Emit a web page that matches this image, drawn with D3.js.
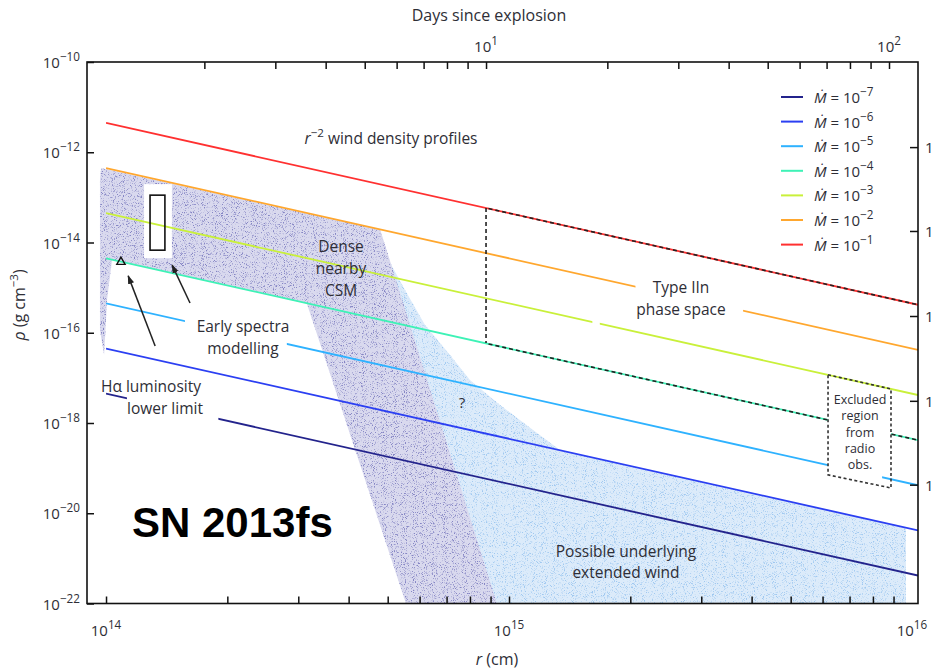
<!DOCTYPE html>
<html><head><meta charset="utf-8">
<script src="https://cdn.jsdelivr.net/npm/d3@7"></script>
<style>
body{margin:0;background:#fff}
svg{display:block;font-family:"Open Sans",sans-serif}
</style></head><body>
<script>
// ---- values ----
const mdotExp = [-7, -6, -5, -4, -3, -2, -1]
const lineColors = ["#23238c", "#2b3ff2", "#2eb2ff", "#3ef2b6", "#c9f03a", "#ffa72e", "#ff3030"]
const rStart = 1e14, rEnd = 1.035e16
const rhoAtStart = [4.47e-18, 4.47e-17, 4.47e-16, 4.47e-15, 4.47e-14, 4.47e-13, 4.47e-12]
const rhoAtEnd = [4.17e-22, 4.17e-21, 4.17e-20, 4.17e-19, 4.17e-18, 4.17e-17, 4.17e-16]
// visible pieces of each line in r (gaps are where labels sit)
const lineSegments = [
    [[1e14, 1.127e14], [1.90e14, 1.035e16]],
    [[1e14, 1.035e16]],
    [[1e14, 1.57e14], [2.81e14, 6.19e15], [8.43e15, 1.035e16]],
    [[1e14, 6.19e15], [8.87e15, 1.035e16]],
    [[1e14, 1.61e15], [1.68e15, 1.035e16]],
    [[1e14, 2.06e15], [3.81e15, 1.035e16]],
    [[1e14, 1.035e16]]
]
// shaded regions [r, rho]
const denseCSM = [[9.72e13, 4.47e-13], [4.79e14, 1.95e-14], [9.33e14, 1e-22], [5.55e14, 1e-22],
    [3.15e14, 4.47e-16], [1.035e14, 4.17e-15], [1.006e14, 5.37e-16], [9.89e13, 3.24e-17],
    [9.66e13, 1.15e-16], [9.66e13, 2.45e-13]]
const extendedWind = [[4.79e14, 1.95e-14], [5.0e14, 4.5e-15], [5.52e14, 8.9e-16], [6.19e14, 1.48e-16],
    [7.14e14, 3.21e-17], [8.0e14, 8.99e-18], [9.5e14, 2.5e-18], [1.13e15, 7.76e-19], [1.34e15, 2.5e-19],
    [9.66e15, 4.79e-21], [9.66e15, 1e-22], [8.0e14, 1e-22]]
// Type IIn box: left edge r, red line above, green line below
const typeIInR = 8.77e14, typeIInTop = 5.8e-14, typeIInBottom = 5.93e-17
// excluded region from radio (corners)
const excluded = [[6.19e15, 1.17e-17], [8.87e15, 5.68e-18], [8.87e15, 3.63e-20], [6.19e15, 7.08e-20]]
// early spectra modelling box and H-alpha point
const spectraBox = {r: [1.286e14, 1.40e14], rho: [6.76e-15, 1.12e-13]}
const halphaPoint = [1.089e14, 3.71e-15]
const arrows = [[[1.324e14, 5.1e-17], [1.135e14, 1.82e-15]], [[1.616e14, 4.57e-16], [1.459e14, 3.16e-15]]]
// axes
const rAt10Days = 8.77e14
const xMajor = [1e14, 1e15, 1e16]
const yMajorExp = [-10, -12, -14, -16, -18, -20, -22]
const rightTicks = [1.3e-12, 1.8e-14, 2.35e-16, 3.1e-18, 4.3e-20]

const W = 932, H = 670
const L = 87, R = 918, T = 62, B = 603.5
const ink = "#2e2e36"

let x = d3.scaleLog().domain([8.97e13, 1.035e16]).range([L, R])
let y = d3.scaleLog().domain([1e-22, 1e-10]).range([B, T])
let xd = d3.scaleLog().domain(x.domain().map(r => r / rAt10Days * 10)).range([L, R])
let line = d3.line().x(d => x(d[0])).y(d => y(d[1]))

let svg = d3.select("body").append("svg").attr("width", W).attr("height", H)
let defs = svg.append("defs")

// stipple texture
let f = defs.append("filter").attr("id", "speckle").attr("x", 0).attr("y", 0).attr("width", 1).attr("height", 1)
f.append("feTurbulence").attr("type", "fractalNoise").attr("baseFrequency", 1.1).attr("numOctaves", 2).attr("seed", 4).attr("result", "noise")
f.append("feColorMatrix").attr("in", "noise").attr("type", "matrix")
    .attr("values", "0 0 0 0 0  0 0 0 0 0  0 0 0 0 0  5 0 0 0 -2.75").attr("result", "mask")
f.append("feComposite").attr("in", "SourceGraphic").attr("in2", "mask").attr("operator", "in")

//shaded regions
let regions = [[extendedWind, "#dcebfa", "#9fc8f0"], [denseCSM, "#d9d9ee", "#8585c4"]]
regions.forEach(([pts, base, dots]) => {
    svg.append("path").attr("d", line(pts) + "Z").attr("fill", base)
    svg.append("path").attr("d", line(pts) + "Z").attr("fill", dots).attr("filter", "url(#speckle)")
})

// white space round the spectra box
svg.append("rect")
    .attr("x", x(spectraBox.r[0]) - 6).attr("y", y(spectraBox.rho[1]) - 11)
    .attr("width", x(spectraBox.r[1]) - x(spectraBox.r[0]) + 13)
    .attr("height", y(spectraBox.rho[0]) - y(spectraBox.rho[1]) + 19)
    .attr("fill", "#fff")

//wind lines, clipped to their visible pieces
mdotExp.forEach((e, i) => {
    let cp = defs.append("clipPath").attr("id", "seg" + i)
    lineSegments[i].forEach(s => cp.append("rect").attr("x", x(s[0])).attr("y", 0)
        .attr("width", x(s[1]) - x(s[0])).attr("height", H))
    svg.append("path")
        .attr("d", line([[rStart, rhoAtStart[i]], [rEnd, rhoAtEnd[i]]]))
        .attr("clip-path", "url(#seg" + i + ")")
        .attr("stroke", lineColors[i]).attr("stroke-width", 1.8).attr("fill", "none")
})

// Type IIn phase space outline
let dash = "4,3"
let redI = 6, greenI = 3
let cpTop = defs.append("clipPath").attr("id", "iinTop")
cpTop.append("rect").attr("x", x(typeIInR)).attr("y", 0).attr("width", R - x(typeIInR)).attr("height", H)
svg.append("path").attr("d", line([[rStart, rhoAtStart[redI]], [rEnd, rhoAtEnd[redI]]]))
    .attr("clip-path", "url(#iinTop)").attr("stroke", "#222").attr("stroke-width", 1.6)
    .attr("stroke-dasharray", dash).attr("fill", "none")
let cpBot = defs.append("clipPath").attr("id", "iinBot")
cpBot.append("rect").attr("x", x(typeIInR)).attr("y", 0).attr("width", x(excluded[0][0]) - x(typeIInR)).attr("height", H)
cpBot.append("rect").attr("x", x(excluded[1][0])).attr("y", 0).attr("width", R - x(excluded[1][0])).attr("height", H)
svg.append("path").attr("d", line([[rStart, rhoAtStart[greenI]], [rEnd, rhoAtEnd[greenI]]]))
    .attr("clip-path", "url(#iinBot)").attr("stroke", "#222").attr("stroke-width", 1.6)
    .attr("stroke-dasharray", dash).attr("fill", "none")
svg.append("path").attr("d", line([[typeIInR, typeIInTop], [typeIInR, typeIInBottom]]))
    .attr("stroke", "#222").attr("stroke-width", 1.6).attr("stroke-dasharray", dash).attr("fill", "none")

// excluded region box
svg.append("path").attr("d", line(excluded) + "Z")
    .attr("fill", "none").attr("stroke", "#333").attr("stroke-width", 1.6).attr("stroke-dasharray", "3,2.5")

// spectra box, H-alpha point and arrows
svg.append("rect")
    .attr("x", x(spectraBox.r[0])).attr("y", y(spectraBox.rho[1]))
    .attr("width", x(spectraBox.r[1]) - x(spectraBox.r[0]))
    .attr("height", y(spectraBox.rho[0]) - y(spectraBox.rho[1]))
    .attr("fill", "none").attr("stroke", "#111").attr("stroke-width", 1.6)
svg.append("path")
    .attr("d", d3.symbol(d3.symbolTriangle, 30)())
    .attr("transform", `translate(${x(halphaPoint[0])},${y(halphaPoint[1])})`)
    .attr("fill", "none").attr("stroke", "#111").attr("stroke-width", 1.4)
defs.append("marker").attr("id", "head").attr("viewBox", "0 0 10 10").attr("refX", 9).attr("refY", 5)
    .attr("markerWidth", 9).attr("markerHeight", 9).attr("markerUnits", "userSpaceOnUse").attr("orient", "auto")
    .append("path").attr("d", "M0,1.5L10,5L0,8.5Z").attr("fill", "#222")
arrows.forEach(a => svg.append("path").attr("d", line(a))
    .attr("stroke", "#222").attr("stroke-width", 1.5).attr("marker-end", "url(#head)"))

// frame and axes
svg.append("rect").attr("x", L).attr("y", T).attr("width", R - L).attr("height", B - T)
    .attr("fill", "none").attr("stroke", "#111").attr("stroke-width", 1.6)

let xTicks = []
for (let d = 14; d < 16; d++) for (let m = 1; m < 10; m++) xTicks.push(m * 10 ** d)
svg.append("g").attr("transform", `translate(0,${B})`)
    .call(d3.axisBottom(x).tickValues(xTicks).tickSize(-7).tickFormat(""))
let dayTicks = []
for (let d = 0; d < 2; d++) for (let m = 2; m < 10; m++) dayTicks.push(m * 10 ** d)
dayTicks.push(10, 100)
svg.append("g").attr("transform", `translate(0,${T})`)
    .call(d3.axisTop(xd).tickValues(dayTicks).tickSize(-7).tickFormat(""))
svg.append("g").attr("transform", `translate(${L},0)`)
    .call(d3.axisLeft(y).tickValues(yMajorExp.map(e => 10 ** e)).tickSize(-7).tickFormat(""))
svg.append("g").attr("transform", `translate(${R},0)`)
    .call(d3.axisRight(y).tickValues(rightTicks).tickSize(-8).tickFormat(""))
svg.selectAll(".domain").remove()
svg.selectAll(".tick line").attr("stroke", "#111").attr("stroke-width", 1.5)

function pow10(sel, base, exp) {
    sel.append("tspan").text(base)
    sel.append("tspan").attr("dy", -7).attr("font-size", "0.78em").text(exp)
}
xMajor.forEach((r, i) => {
    let t = svg.append("text").attr("x", x(r)).attr("y", 636).attr("text-anchor", "middle")
        .attr("font-size", 15).attr("fill", ink)
    pow10(t, "10", ["14", "15", "16"][i])
})
;[[10, "1"], [100, "2"]].forEach(([d, e]) => {
    let t = svg.append("text").attr("x", xd(d)).attr("y", 52).attr("text-anchor", "middle")
        .attr("font-size", 15).attr("fill", ink)
    pow10(t, "10", e)
})
yMajorExp.forEach(e => {
    let t = svg.append("text").attr("x", 80).attr("y", y(10 ** e) + 6).attr("text-anchor", "end")
        .attr("font-size", 15).attr("fill", ink)
    pow10(t, "10", "\u2212" + (-e))
})
rightTicks.forEach(v => {
    let t = svg.append("text").attr("x", 925).attr("y", y(v) + 6).attr("font-size", 15).attr("fill", ink)
    pow10(t, "10", "")
})

// axis titles
svg.append("text").attr("x", 489).attr("y", 21).attr("text-anchor", "middle").attr("font-size", 16)
    .attr("fill", ink).text("Days since explosion")
let xt = svg.append("text").attr("x", 497).attr("y", 665).attr("text-anchor", "middle").attr("font-size", 16).attr("fill", ink)
xt.append("tspan").attr("font-style", "italic").text("r")
xt.append("tspan").text(" (cm)")
let yt = svg.append("text").attr("transform", "translate(25,305) rotate(-90)").attr("text-anchor", "middle")
    .attr("font-size", 16).attr("fill", ink)
yt.append("tspan").attr("font-style", "italic").text("ρ")
yt.append("tspan").text(" (g cm")
yt.append("tspan").attr("dy", -7).attr("font-size", "0.72em").text("\u22123")
yt.append("tspan").attr("dy", 7).text(")")

// legend
let lg = svg.append("g")
mdotExp.forEach((e, i) => {
    let yy = 97 + i * 24.6
    lg.append("line").attr("x1", 781).attr("x2", 803).attr("y1", yy).attr("y2", yy)
        .attr("stroke", lineColors[i]).attr("stroke-width", 2)
    let t = lg.append("text").attr("x", 814).attr("y", yy + 6).attr("font-size", 15).attr("fill", ink)
    t.append("tspan").attr("font-style", "italic").text("Ṁ")
    t.append("tspan").text(" = 10")
    t.append("tspan").attr("dy", -7).attr("font-size", "0.78em").text("\u2212" + (-e))
})

// annotations
function label(lines, cx, cy, size, gap, anchor) {
    let t = svg.append("text").attr("font-size", size).attr("fill", ink).attr("text-anchor", anchor || "middle")
    lines.forEach((s, i) => t.append("tspan").attr("x", cx).attr("y", cy + i * gap).text(s))
    return t
}
let wind = svg.append("text").attr("x", 391).attr("y", 144).attr("text-anchor", "middle").attr("font-size", 15.5).attr("fill", ink)
wind.append("tspan").attr("font-style", "italic").text("r")
wind.append("tspan").attr("dy", -7).attr("font-size", "0.75em").text("\u22122")
wind.append("tspan").attr("dy", 7).text(" wind density profiles")
label(["Dense", "nearby", "CSM"], 341, 252, 15.5, 22)
label(["Early spectra", "modelling"], 243, 332, 15.5, 22)
label(["Hα luminosity"], 101, 392, 15.5, 0, "start")
label(["lower limit"], 127, 414, 15.5, 0, "start")
label(["Type IIn", "phase space"], 681, 293, 15.5, 22)
label(["?"], 462, 408, 15, 0)
label(["Excluded", "region", "from", "radio", "obs."], 860, 404, 12.5, 16.3)
label(["Possible underlying", "extended wind"], 626, 557, 15.5, 21)

svg.append("text").attr("x", 132).attr("y", 537).attr("font-family", "Liberation Sans, Arial, sans-serif")
    .attr("font-weight", "bold").attr("font-size", 42).attr("fill", "#000").text("SN 2013fs")
</script>
</body></html>
